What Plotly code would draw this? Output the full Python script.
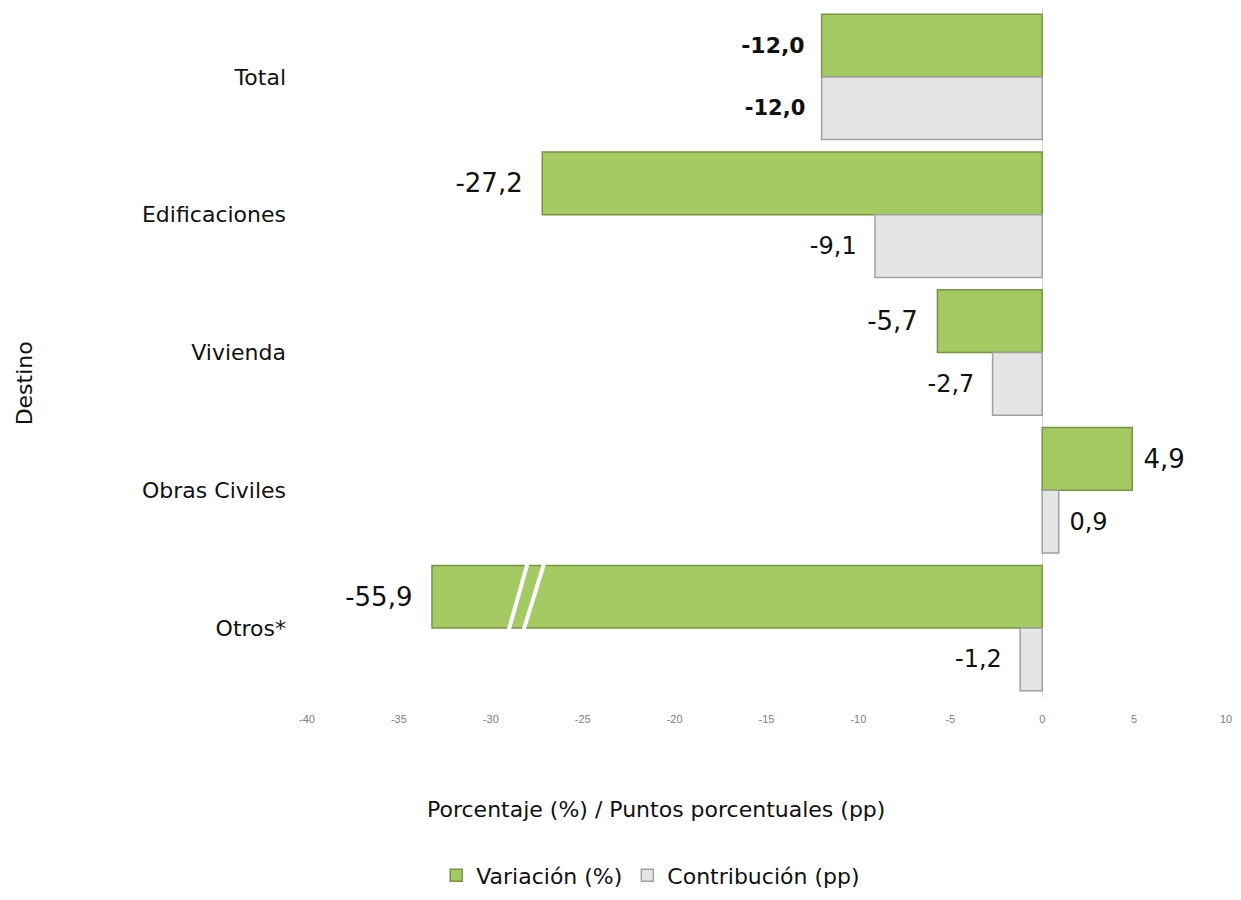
import plotly.graph_objects as go

# Data
categories = ['Total', 'Edificaciones', 'Vivienda', 'Obras Civiles', 'Otros*']
variacion = [-12.0, -27.2, -5.7, 4.9, -55.9]
contribucion = [-12.0, -9.1, -2.7, 0.9, -1.2]
tick_vals = [-40, -35, -30, -25, -20, -15, -10, -5, 0, 5, 10]
tick_text = ['-40', '-35', '-30', '-25', '-20', '-15', '-10', '-5', '0', '5', '10']

# The Otros bar is cut off (axis break) where it would leave the plot
BREAK_AT = -33.2

FONT = 'DejaVu Sans, Liberation Sans, Arial'
NB = '\u00a0'


def fmt(v, bold=False):
    s = f'{v:.1f}'.replace('.', ',')
    if bold:
        s = f'<b>{s}</b>'
    # a little padding between bar end and label
    return s + NB * 2 if v < 0 else NB + s


var_shown = [max(v, BREAK_AT) for v in variacion]
var_text = [fmt(v, c == 'Total') for v, c in zip(variacion, categories)]
con_text = [fmt(v, c == 'Total') for v, c in zip(contribucion, categories)]
var_size = [22 if c == 'Total' else 26 for c in categories]
con_size = [21 if c == 'Total' else 24 for c in categories]

fig = go.Figure()

fig.add_trace(go.Bar(
    y=categories,
    x=var_shown,
    orientation='h',
    name='Variación (%)',
    marker=dict(color='#a5c963', line=dict(color='#76963f', width=1.5)),
    text=var_text,
    textposition='outside',
    textfont=dict(size=var_size, color='#111111', family=FONT),
    cliponaxis=False,
))

fig.add_trace(go.Bar(
    y=categories,
    x=contribucion,
    orientation='h',
    name='Contribución (pp)',
    marker=dict(color='#e5e5e5', line=dict(color='#a0a0a0', width=1.5)),
    text=con_text,
    textposition='outside',
    textfont=dict(size=con_size, color='#111111', family=FONT),
    cliponaxis=False,
))

# white break marks on the truncated Otros bar
otros = categories.index('Otros*')
for x0, x1 in [(-29.1, -28.0), (-28.3, -27.1)]:
    fig.add_shape(type='line', xref='x', yref='y',
                  x0=x0, x1=x1, y0=otros + 0.05, y1=otros - 0.47,
                  line=dict(color='white', width=4))

# rotated y-axis title placed at the far left
fig.add_annotation(text='Destino', xref='paper', yref='paper',
                   x=-0.307, y=0.455, xanchor='center', yanchor='middle',
                   textangle=-90, showarrow=False,
                   font=dict(size=22, color='#111111', family=FONT))

# x-axis title, centred on the page rather than the plot
fig.add_annotation(text='Porcentaje (%) / Puntos porcentuales (pp)',
                   xref='paper', yref='paper', x=0.38, y=-0.164,
                   xanchor='center', yanchor='middle', showarrow=False,
                   font=dict(size=22, color='#111111', family=FONT))

# page body has an 8px margin, so keep the figure inside the window
fig.update_layout(
    width=1225,
    height=884,
    plot_bgcolor='#ffffff',
    paper_bgcolor='#ffffff',
    font=dict(family=FONT, color='#111111'),
    barmode='group',
    bargap=0.09,
    bargroupgap=0.0,
    showlegend=True,
    xaxis=dict(
        range=[-40, 10],
        tickvals=tick_vals,
        ticktext=tick_text,
        ticks='outside',
        ticklen=12,
        tickcolor='rgba(0,0,0,0)',
        tickfont=dict(size=11, color='#808080', family='Liberation Sans, Arial'),
        showgrid=False,
        zeroline=True,
        zerolinecolor='#d9d9d9',
        zerolinewidth=1,
        showline=False,
        automargin=False,
    ),
    yaxis=dict(
        autorange='reversed',
        showgrid=False,
        showline=False,
        ticks='',
        ticklabelstandoff=20,
        tickfont=dict(size=22, color='#111111'),
        automargin=False,
    ),
    legend=dict(
        orientation='h',
        x=0.374,
        xanchor='center',
        y=-0.259,
        yanchor='middle',
        font=dict(size=22, color='#111111'),
        itemwidth=30,
        traceorder='normal',
    ),
    margin=dict(l=299, r=7, t=0, b=195, autoexpand=False),
)

fig.write_html('out.html')
